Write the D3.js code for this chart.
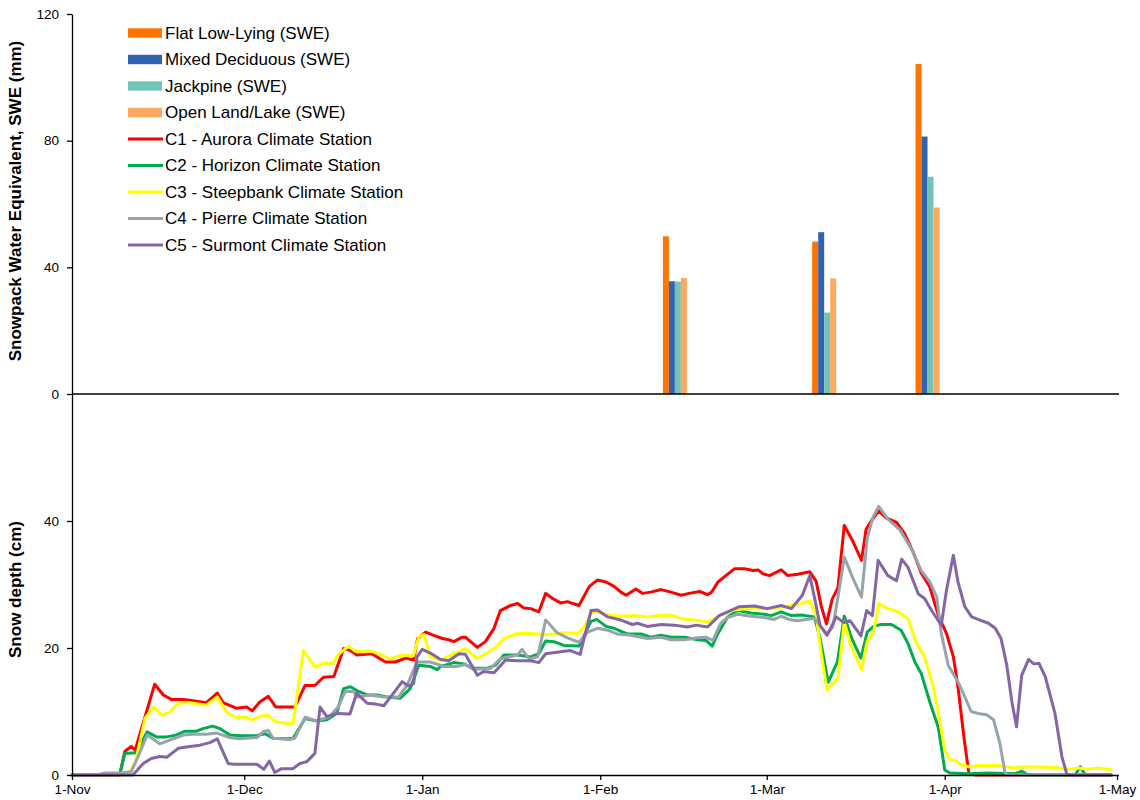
<!DOCTYPE html>
<html>
<head>
<meta charset="utf-8">
<script src="https://cdn.jsdelivr.net/npm/d3@7"></script>
<style>
  html, body { margin: 0; padding: 0; background: #fff; }
  svg { display: block; font-family: "Liberation Sans", Arial, sans-serif; }
  .axis path, .axis line { stroke: #000; stroke-width: 1.3; }
  .axis text { font-size: 13.5px; fill: #000; font-family: "Liberation Sans", Arial, sans-serif; }
</style>
</head>
<body>
<svg id="chart" width="1140" height="800"></svg>
<script>
// Snow course survey dates (winter 2011-2012) and SWE by land cover, mm
const surveyDates = ["2012-02-14", "2012-03-11", "2012-03-29"];
const flatLowLying = [49.8, 48.1, 104.2];
const mixedDeciduous = [35.6, 51.1, 81.3];
const jackpine = [35.5, 25.7, 68.6];
const openLandLake = [36.6, 36.5, 58.9];

const sweTicks = [0, 40, 80, 120];
const depthTicks = [0, 20, 40];

// Snow depth at the climate stations, cm; each pair is [days after 1 Nov 2011, depth]
const c1Aurora = [[0,0],[8.3,0],[9.2,3.7],[10.3,4.5],[11,3.9],[14.4,14.3],[15.9,12.6],[17.3,11.9],[19.4,11.9],[21.1,11.7],[23.4,11.4],[25.3,12.9],[26.3,11.4],[28.7,10.5],[30.4,10.7],[31.4,10.1],[32.7,11.5],[34.2,12.4],[35.5,10.7],[38.8,10.7],[40.6,14.1],[42.3,14.1],[43.8,15.4],[45.6,15.5],[47.3,19.9],[48.5,19.6],[49.6,18.9],[52.2,19.1],[54.6,17.8],[56.3,17.8],[58.1,18.4],[59.5,18.1],[60.2,21.5],[61.6,22.5],[63,22],[64.5,21.5],[65.6,21.3],[66.5,21],[68,21.7],[68.5,21.7],[70.6,20.1],[72,21],[73.5,23.1],[74.6,25.9],[76.4,26.7],[77.6,27],[78.7,26.3],[79.9,26.2],[81.3,25.7],[82.5,28.6],[83.7,27.8],[85.1,27.1],[86.3,27.3],[87.2,27],[88.3,26.7],[90.1,29.7],[91.5,30.7],[93,30.4],[94.4,29.7],[95.6,28.8],[96.5,28.3],[98.2,29.3],[99.4,28.6],[100.8,28.8],[102.6,29.2],[104.3,28.8],[106.1,28.3],[107.5,28.6],[109.3,28.9],[110.7,28.4],[111.4,28.8],[112.5,30.4],[113.6,31.2],[115.4,32.5],[117.1,32.5],[118.6,32.2],[119.5,32.3],[120.3,31.7],[121.5,31.4],[123.5,32.3],[124.7,31.4],[126.4,31.6],[128.5,32],[129.6,30.5],[130.5,26.6],[131.4,23.8],[132.4,27.7],[133.4,29.5],[134.5,39.3],[136,36.8],[137.5,33.8],[138.3,38.7],[139.2,40],[140.5,41.6],[141.8,40.5],[143.6,39.8],[145,38],[146.5,35.1],[147.9,31.8],[149.4,29.6],[150.9,25.1],[152.3,22.3],[153.5,18.6],[154.3,13.9],[155.4,5.5],[156.2,0.3],[157.3,0],[181,0]];

const c2Horizon = [[0,0],[8.3,0],[9.2,3.4],[11.1,3.5],[13.1,6.8],[14.7,6],[16.5,6],[18.2,6.3],[19.7,6.9],[21.7,6.9],[22.8,7.3],[24.5,7.7],[25.8,7.3],[27.5,6.3],[29.5,6.2],[32.2,6.2],[33.6,6.5],[35,5.8],[37.4,5.7],[38.5,5.8],[40.6,8.9],[42.6,8.5],[44.4,8.7],[46.1,9.7],[47.3,13.6],[48.5,13.9],[49.6,13.3],[51.4,12.6],[53.1,12.6],[54.9,12.3],[57.2,12.1],[58.9,13.6],[60.4,17.3],[62.4,17.1],[63.6,16.6],[64.2,17.1],[66.5,17.7],[68.3,17.5],[69.7,16.8],[72.3,16.8],[73.8,17.3],[75.2,18.9],[77.6,18.9],[79.9,18.6],[81.3,19.1],[82.5,21.1],[83.9,21],[85.7,20.4],[88.3,20.3],[89.2,22],[90.4,24.2],[91.4,24.5],[93,23.4],[94.4,23.1],[96.8,22.2],[99.1,22.2],[100.8,21.7],[102.6,22],[104.3,21.7],[106.7,21.7],[109,21.3],[110.4,21.2],[111.5,20.3],[112.5,22.3],[114.2,24.9],[115.9,25.9],[118.3,25.5],[120.6,25.3],[121.8,25.1],[123.5,25.7],[125.3,25.1],[127,25.2],[129.3,24.9],[130.3,21.5],[131.7,14.6],[133.3,17.8],[134.5,25],[135.8,21.5],[137.4,18.4],[138.5,22.5],[139.6,23.4],[140.9,23.7],[142.7,23.7],[144.4,22.8],[145.6,20.7],[146.8,17.8],[147.9,16],[149.4,11.5],[150.9,7.4],[152,0.8],[152.9,0.3],[156.1,0.2],[159.6,0.3],[164.2,0.2],[165.4,0.6],[166.6,0],[174.7,0],[175.6,1.3],[176.5,0],[181,0]];

const c3Steepbank = [[0,0],[9.2,0],[10,0.5],[11.1,2.1],[12.7,8.9],[14.2,10.7],[15.6,9.4],[17,9.9],[18.5,11.3],[20.5,11.4],[23.4,11],[25.3,12.3],[26.9,9.9],[28.4,9.1],[30.4,9.1],[31.4,8.7],[33,9.3],[34.2,9.4],[35.3,8.4],[36.8,8.2],[38.5,8.1],[40.3,19.6],[42.3,17],[43.8,17.6],[45.5,17.6],[46.4,19],[48.2,20.3],[49.3,19.5],[50.8,19.4],[52.2,19.5],[53.7,19],[55.4,18.3],[57.2,18.8],[59.5,18.8],[60.4,21.8],[61.3,22.1],[62.4,18.6],[64.2,18.1],[66.5,19.1],[68.5,19.9],[70.6,18.3],[72,19.1],[74,20.2],[75.2,21.5],[77.6,22.3],[79.9,22.3],[82.8,22.1],[85.7,22.4],[88.1,22.3],[89.2,23.3],[90.4,25.5],[91.5,25.7],[93.8,25.1],[95.6,25],[97.9,25.1],[100.2,24.9],[102.3,25.1],[104.3,25.2],[106.1,24.6],[108.4,24.4],[110.7,24.1],[112.5,24.9],[113.6,25.4],[115.4,26],[117.7,26.2],[120,26.2],[122.3,26.2],[124.7,26.6],[126.4,26.9],[128.5,27.4],[129.6,25.2],[130.5,19.1],[131.5,13.4],[133.4,15.2],[134.5,24.1],[135.7,20.2],[137.5,16.6],[138.5,21.1],[139.6,22.4],[140.5,27],[142.1,26.2],[143.9,25.7],[145.6,24.6],[147.1,20.7],[148.5,18.6],[150,13.9],[151.1,8.7],[152,4],[152.9,2.4],[153.8,2.3],[154.9,1.6],[156.4,1.25],[157.8,1.5],[160.7,1.5],[162.5,1.4],[163.7,1.1],[165.4,1.25],[167.7,1.25],[171.2,1.2],[173.5,0.9],[175.3,1.1],[177,0.9],[178.8,1.1],[181,0.8]];

const c4Pierre = [[0,0],[4.5,0],[5.5,0.3],[8.3,0.3],[10.3,0.5],[11.5,2.9],[13.1,6.3],[15.3,4.9],[17,5.5],[19.4,6.3],[21.1,6.4],[23.4,6.4],[25.2,6.6],[27.5,5.9],[29.2,5.7],[32.2,5.9],[33.3,6.8],[34.2,7],[35,5.8],[37.9,5.6],[38.8,5.8],[40.6,9.1],[42.6,8.5],[44.9,9.2],[46.4,10.8],[47.6,13.2],[49.1,13.1],[49.6,12.3],[51.9,12.6],[54.3,12.3],[56.9,12.3],[58.4,14.2],[60.1,17.8],[62.4,17.8],[64.8,17.1],[67.1,17.1],[68.5,17.4],[70,16.6],[72.9,16.8],[74.6,18.3],[77.6,18.9],[78.4,19.8],[79.6,18.3],[81.1,18.6],[82.5,24.4],[84.5,22.4],[86.3,21.6],[88.3,20.9],[89.8,22.5],[91.5,23.1],[93.3,22.8],[95,22.2],[97.3,22],[100.2,21.5],[102.6,21.7],[104.3,21.3],[106.7,21.3],[109,21.6],[110.4,21.7],[111.6,21.2],[113,23.9],[114.2,24.8],[115.9,25.3],[118.3,25],[120.6,24.8],[122.3,24.5],[123.5,25],[124.9,24.5],[126.4,24.3],[129.3,24.7],[130.5,23.3],[131.5,22.2],[132.5,23.3],[133.4,28],[134.5,34.3],[136,31],[137.5,28],[138.5,37.3],[139.5,40.6],[140.5,42.3],[142.1,40.3],[144.2,38.6],[146.2,35.6],[147.9,32.2],[149.4,30.4],[150.6,28],[151.4,22.3],[152.6,17.3],[154.3,14.7],[155.5,12.3],[156.6,10],[157.8,9.7],[159.3,9.5],[160.5,8.7],[161.6,5],[162.5,0.3],[163.1,0],[181,0]];

const c5Surmont = [[0,0],[10.6,0],[12.4,1.8],[13.8,2.6],[15.3,2.9],[16.5,2.8],[18.5,4.2],[20.5,4.5],[22.3,4.7],[24,5.1],[25.3,5.7],[27.2,1.8],[28.1,1.7],[32.2,1.7],[33.4,0.9],[34.4,2.2],[35.3,0.4],[36.5,1],[38.5,1],[39.7,1.8],[40.9,2.1],[42.3,3.4],[43.2,10.7],[44.4,9.2],[46.1,9.7],[48.4,9.6],[49.6,12.9],[51.4,11.3],[52.8,11.2],[54.3,10.9],[56,12.9],[57.5,14.7],[58.6,14],[59.5,14.4],[60.1,18.6],[61,19.8],[62.4,19.2],[64.2,18.2],[65.6,18],[67.4,19.1],[68.5,19],[70.6,15.7],[71.7,16.3],[73.5,16.1],[75.5,18.1],[77.6,18],[79.9,18],[81.3,17.7],[82.5,19.1],[85.1,19.4],[86.8,19.6],[88.5,19],[90.4,25.9],[91.5,26],[93.3,24.9],[95.6,24.4],[97.6,23.7],[98.5,23.9],[100.2,23.4],[102.6,23.7],[104.9,23.6],[107.2,23.3],[108.7,23.6],[110.7,23.3],[112.7,25.1],[114.2,25.7],[116.2,26.5],[118.9,26.6],[121.1,26.2],[123.5,26.7],[125.3,26.2],[127.2,28.3],[128.5,31.4],[129.3,28],[130.3,23.5],[131.5,22],[133.1,24.9],[134.4,24],[135.5,24.3],[137.4,21.9],[138.4,25.9],[139.4,25.1],[140.4,33.8],[142.1,31.4],[143.6,30.6],[144.5,34],[145.6,32.7],[147.4,28.5],[148.5,27.8],[149.7,25.9],[151.4,23.6],[152.3,29.1],[153.5,34.6],[154.3,30.4],[155.5,26.5],[156.7,24.9],[157.8,24.5],[159.6,23.9],[160.8,23.1],[161.8,21.5],[162.8,17.3],[163.7,11.5],[164.5,7.6],[165.4,15.7],[166.6,18.2],[167.5,17.5],[168.4,17.6],[169.5,15.5],[171.2,9.7],[172.4,2.9],[173.3,0],[181,0]];

const barSeries = [
  { name: "Flat Low-Lying (SWE)", values: flatLowLying, color: "#ff7300" },
  { name: "Mixed Deciduous (SWE)", values: mixedDeciduous, color: "#3263b0" },
  { name: "Jackpine (SWE)", values: jackpine, color: "#74c4b6" },
  { name: "Open Land/Lake (SWE)", values: openLandLake, color: "#ffa862" }
];
const lineSeries = [
  { name: "C1 - Aurora Climate Station", values: c1Aurora, color: "#ff0000" },
  { name: "C2 - Horizon Climate Station", values: c2Horizon, color: "#00ac4e" },
  { name: "C3 - Steepbank Climate Station", values: c3Steepbank, color: "#ffff00" },
  { name: "C4 - Pierre Climate Station", values: c4Pierre, color: "#97a4ac" },
  { name: "C5 - Surmont Climate Station", values: c5Surmont, color: "#8466a6" }
];

const svg = d3.select("#chart");
const start = Date.UTC(2011, 10, 1);
const dayMs = 864e5;
const toDate = d => new Date(start + d * dayMs);

const left = 72, right = 1117, axisEnd = 1119;
const x = d3.scaleUtc().domain([new Date(start), new Date(Date.UTC(2012, 4, 1))]).range([left, right]);
const yTop = d3.scaleLinear().domain([0, 120]).range([394, 14]);
const yBot = d3.scaleLinear().domain([0, 60]).range([775, 394]);

// Upper panel: SWE bars grouped around each survey date
const barW = 6;
const bars = svg.append("g");
barSeries.forEach((s, i) => {
  bars.selectAll(null)
    .data(s.values.map((v, j) => ({ v, date: new Date(surveyDates[j] + "T00:00:00Z") })))
    .join("rect")
    .attr("x", d => x(d.date) - 2 * barW + i * barW)
    .attr("width", barW)
    .attr("y", d => yTop(d.v))
    .attr("height", d => yTop(0) - yTop(d.v))
    .attr("fill", s.color);
});

// Lower panel: snow depth lines
const line = d3.line().x(d => x(toDate(d[0]))).y(d => yBot(d[1]));
svg.append("g").selectAll("path")
  .data(lineSeries)
  .join("path")
  .attr("d", d => line(d.values))
  .attr("fill", "none")
  .attr("stroke", d => d.color)
  .attr("stroke-width", 3)
  .attr("stroke-linejoin", "round")
  .attr("stroke-linecap", "round");

// Axes
svg.append("g").attr("class", "axis").attr("transform", `translate(${left},0)`)
  .call(d3.axisLeft(yTop).tickValues(sweTicks).tickSize(5).tickSizeOuter(0).tickPadding(8));
svg.append("g").attr("class", "axis").attr("transform", `translate(${left},0)`)
  .call(d3.axisLeft(yBot).tickValues(depthTicks).tickSize(5).tickSizeOuter(0).tickPadding(8));

svg.append("line")
  .attr("x1", left).attr("x2", axisEnd)
  .attr("y1", yTop(0)).attr("y2", yTop(0))
  .attr("stroke", "#000").attr("stroke-width", 1.3);

const xAxis = svg.append("g").attr("class", "axis").attr("transform", `translate(0,${yBot(0)})`)
  .call(d3.axisBottom(x).ticks(d3.utcMonth.every(1)).tickFormat(d3.utcFormat("%-d-%b"))
    .tickSize(5).tickSizeOuter(0).tickPadding(4));
xAxis.select(".domain").attr("d", `M${left},0.5H${axisEnd}`);

// Axis titles
svg.append("text")
  .attr("transform", `translate(21,${(yTop(0) + yTop(120)) / 2 - 3}) rotate(-90)`)
  .attr("text-anchor", "middle")
  .attr("font-size", 17).attr("font-weight", "bold")
  .text("Snowpack Water Equivalent, SWE (mm)");
svg.append("text")
  .attr("transform", `translate(21,${(yBot(0) + yBot(60)) / 2 + 5}) rotate(-90)`)
  .attr("text-anchor", "middle")
  .attr("font-size", 17).attr("font-weight", "bold")
  .text("Snow depth (cm)");

// Legend
const legend = svg.append("g").attr("transform", "translate(128,33)");
const rowH = 26.5;
const items = barSeries.map(s => ({ ...s, kind: "bar" })).concat(lineSeries.map(s => ({ ...s, kind: "line" })));
const rows = legend.selectAll("g").data(items).join("g")
  .attr("transform", (d, i) => `translate(0,${i * rowH})`);
rows.filter(d => d.kind === "bar").append("rect")
  .attr("x", 0).attr("y", -4.7).attr("width", 34).attr("height", 9.4).attr("fill", d => d.color);
rows.filter(d => d.kind === "line").append("line")
  .attr("x1", 0).attr("x2", 35).attr("y1", 0).attr("y2", 0)
  .attr("stroke", d => d.color).attr("stroke-width", 3);
rows.append("text")
  .attr("x", 37).attr("y", 0).attr("dy", "0.35em")
  .attr("font-size", 17)
  .text(d => d.name);
</script>
</body>
</html>
